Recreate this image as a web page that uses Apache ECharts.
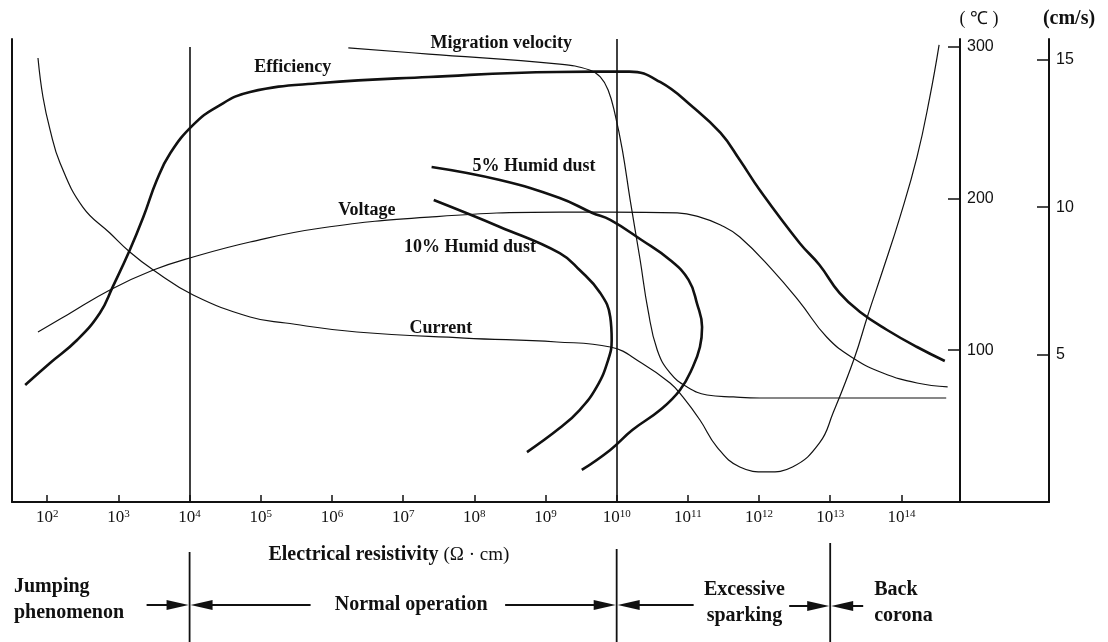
<!DOCTYPE html>
<html>
<head>
<meta charset="utf-8">
<script src="https://cdn.jsdelivr.net/npm/echarts@6/dist/echarts.min.js"></script>
<style>
  html, body { margin: 0; padding: 0; background: #fff; }
  #chart { width: 1108px; height: 642px; }
</style>
</head>
<body>
<div id="chart"></div>
<script>
// x = log10 of electrical resistivity (Ω·cm); y = value on the left-hand (℃) scale
const decadeTicks = [2, 3, 4, 5, 6, 7, 8, 9, 10, 11, 12, 13, 14];
const tempTicks = [100, 200, 300];
const speedTicks = [5, 10, 15];

const efficiency = [
  [1.69, 77.1], [2.04, 91.6], [2.42, 106.7], [2.74, 124.5], [2.92, 141.7], [3.16, 166.0],
  [3.35, 187.7], [3.54, 212.1], [3.73, 229.9], [4.05, 248.4], [4.38, 260.2], [4.85, 270.1],
  [5.85, 276.0], [7.36, 280.0], [9.16, 283.3], [10.18, 283.5], [10.61, 276.7],
  [11.07, 260.2], [11.46, 243.1], [11.73, 225.3], [12.01, 205.5], [12.57, 170.6], [12.85, 156.1],
  [13.13, 137.7], [13.42, 125.2], [13.80, 113.3], [14.22, 102.1], [14.61, 92.9]
];
const migrationVelocity = [
  [6.23, 299.1], [7.36, 295.1], [9.20, 288.5], [9.62, 284.6], [9.77, 280.0], [9.88, 271.4],
  [9.98, 254.9], [10.08, 231.9], [10.19, 198.9], [10.33, 159.4], [10.44, 126.5],
  [10.57, 100.1], [10.75, 85.0], [10.99, 75.8], [11.27, 70.5], [11.64, 69.2], [12.01, 68.5],
  [14.63, 68.5]
];
const current = [
  [1.87, 292.5], [1.94, 266.8], [2.04, 245.1], [2.18, 223.3], [2.50, 194.3],
  [2.88, 177.2], [3.16, 164.7], [3.49, 152.8], [4.05, 136.4], [4.85, 121.9], [5.35, 117.9],
  [6.35, 112.0], [7.86, 108.0], [9.16, 105.4], [9.91, 102.1], [10.35, 91.6], [10.75, 78.4],
  [10.93, 69.2], [11.17, 54.0], [11.41, 36.2], [11.73, 23.1], [12.11, 19.8], [12.47, 23.1],
  [12.85, 38.9], [13.04, 58.6], [13.34, 94.9], [13.53, 123.2], [13.74, 152.8],
  [13.98, 187.7], [14.22, 227.3], [14.40, 266.8], [14.53, 301.1]
];
const voltage = [
  [1.87, 112.0], [2.28, 123.2], [2.88, 139.7], [3.49, 152.8], [4.05, 161.4], [4.85, 171.3],
  [5.85, 180.5], [7.36, 187.7], [9.20, 191.0], [9.91, 191.0], [10.85, 190.4], [11.17, 187.7],
  [11.46, 182.5], [11.73, 174.6], [12.19, 152.8], [12.57, 131.8], [12.95, 108.7], [13.32, 94.9],
  [13.74, 85.0], [14.22, 78.4], [14.65, 75.8]
];
const humidDust5 = [
  [7.40, 220.7], [8.36, 212.1], [9.20, 200.3], [9.66, 190.4], [9.91, 185.8], [10.35, 172.6],
  [10.75, 159.4], [11.01, 146.3], [11.13, 130.5], [11.20, 115.3], [11.17, 102.1], [11.07, 88.9],
  [10.89, 73.8], [10.61, 60.6], [10.22, 47.4], [9.91, 34.3], [9.51, 21.1]
];
const humidDust10 = [
  [7.43, 198.9], [8.36, 181.2], [9.20, 164.0], [9.48, 152.8], [9.77, 137.7], [9.91, 121.9],
  [9.93, 106.7], [9.88, 93.5], [9.72, 75.8], [9.48, 60.6], [9.20, 48.7], [8.74, 32.9]
];

// region boundaries (log10 resistivity)
const jumpLimit = 4, sparkLimit = 10, coronaLimit = 13;

const INK = '#111';
const SERIF = '"Liberation Serif", "Times New Roman", Times, serif';
const SANS = '"Liberation Sans", Arial, Helvetica, sans-serif';

const chart = echarts.init(document.getElementById('chart'), null, { renderer: 'canvas' });

function curve(name, data, width) {
  return {
    name: name, type: 'line', yAxisIndex: 0, data: data,
    smooth: 0.45, symbol: 'none', silent: true, z: 3,
    lineStyle: { color: INK, width: width }
  };
}

const boundarySeries = curve('boundaries', [], 1);
boundarySeries.markLine = {
  silent: true, symbol: 'none', label: { show: false },
  lineStyle: { color: INK, width: 1.6, type: 'solid' },
  data: [
    [{ coord: [jumpLimit, 0] }, { coord: [jumpLimit, 299.7] }],
    [{ coord: [sparkLimit, 0] }, { coord: [sparkLimit, 305] }]
  ]
};

const option = {
  animation: false,
  backgroundColor: '#fff',
  grid: { left: 12, right: 59, top: 39, bottom: 140 },
  xAxis: {
    type: 'value', min: 1.505, max: 16.074,
    axisLine: { show: true, lineStyle: { color: INK, width: 2 } },
    axisTick: { show: true, inside: true, length: 7, customValues: decadeTicks,
      lineStyle: { color: INK, width: 1.5 } },
    axisLabel: {
      customValues: decadeTicks, margin: 7, color: INK,
      formatter: function (v) { return '{b|10}{s|' + v + '}'; },
      rich: {
        b: { fontFamily: SERIF, fontSize: 17, color: INK },
        s: { fontFamily: SERIF, fontSize: 11, color: INK, verticalAlign: 'top' }
      }
    },
    splitLine: { show: false }
  },
  yAxis: [
    {
      type: 'value', position: 'right', offset: -89, min: 0, max: 305,
      name: '( ℃ )', nameLocation: 'end', nameGap: 11,
      nameTextStyle: { fontFamily: SERIF, fontSize: 18, color: INK, padding: [0, 0, 0, 38] },
      axisLine: { show: true, lineStyle: { color: INK, width: 2 } },
      axisTick: { show: true, inside: true, length: 12, customValues: tempTicks,
        lineStyle: { color: INK, width: 1.5 } },
      axisLabel: { customValues: tempTicks, margin: 7, color: INK, fontFamily: SANS, fontSize: 16 },
      splitLine: { show: false }
    },
    {
      type: 'value', position: 'right', offset: 0, min: 0, max: 15.7,
      name: '(cm/s)', nameLocation: 'end', nameGap: 10,
      nameTextStyle: { fontFamily: SERIF, fontSize: 20, fontWeight: 'bold', color: INK, padding: [0, 0, 0, 40] },
      axisLine: { show: true, lineStyle: { color: INK, width: 2 } },
      axisTick: { show: true, inside: true, length: 12, customValues: speedTicks,
        lineStyle: { color: INK, width: 1.5 } },
      axisLabel: { customValues: speedTicks, margin: 7, color: INK, fontFamily: SANS, fontSize: 16 },
      splitLine: { show: false }
    },
    {
      type: 'value', position: 'left', min: 0, max: 305,
      axisLine: { show: true, lineStyle: { color: INK, width: 2 } },
      axisTick: { show: false }, axisLabel: { show: false }, splitLine: { show: false }
    }
  ],
  series: [
    boundarySeries,
    curve('Efficiency', efficiency, 2.6),
    curve('Migration velocity', migrationVelocity, 1.2),
    curve('Current', current, 1.2),
    curve('Voltage', voltage, 1.2),
    curve('5% Humid dust', humidDust5, 2.6),
    curve('10% Humid dust', humidDust10, 2.6)
  ]
};
chart.setOption(option);

// curve captions, anchored in data space
const captions = [
  ['Efficiency', 5.45, 286.6],
  ['Migration velocity', 8.38, 302.4],
  ['5% Humid dust', 8.84, 221.3],
  ['Voltage', 6.49, 192.4],
  ['10% Humid dust', 7.94, 168.0],
  ['Current', 7.53, 114.6]
];

function boldText(text, x, y, size, align) {
  return {
    type: 'text', x: x, y: y, silent: true, z: 10,
    style: { text: text, fill: INK, fontFamily: SERIF, fontWeight: 'bold', fontSize: size,
      align: align || 'center', verticalAlign: 'middle', lineHeight: 26 }
  };
}
function vline(x, y1, y2) {
  return { type: 'line', silent: true, shape: { x1: x, y1: y1, x2: x, y2: y2 },
    style: { stroke: INK, lineWidth: 1.8 } };
}
function arrow(fromX, toX, y) {
  const dir = toX > fromX ? 1 : -1;
  const head = 22, half = 5;
  const baseX = toX - dir * head;
  return [
    { type: 'line', silent: true, shape: { x1: fromX, y1: y, x2: baseX + dir * 2, y2: y },
      style: { stroke: INK, lineWidth: 2 } },
    { type: 'polygon', silent: true, shape: { points: [[toX, y], [baseX, y - half], [baseX, y + half]] },
      style: { fill: INK } }
  ];
}

function buildGraphics() {
  const toPx = function (k, v) { return chart.convertToPixel({ xAxisIndex: 0, yAxisIndex: 0 }, [k, v]); };
  const g = [];
  captions.forEach(function (c) {
    const p = toPx(c[1], c[2]);
    g.push(boldText(c[0], p[0], p[1], 18));
  });

  // axis title
  const axisMid = toPx(6.8, 0)[0];
  g.push({
    type: 'text', x: axisMid, y: 555, silent: true,
    style: {
      text: '{t|Electrical resistivity }{u|(Ω · cm)}', align: 'center', verticalAlign: 'middle',
      rich: {
        t: { fontFamily: SERIF, fontWeight: 'bold', fontSize: 20, fill: INK, color: INK },
        u: { fontFamily: SERIF, fontSize: 19, fill: INK, color: INK }
      }
    }
  });

  // operating regions
  const A = toPx(jumpLimit, 0)[0], B = toPx(sparkLimit, 0)[0], C = toPx(coronaLimit, 0)[0];
  const ay = 605;
  g.push(vline(A, 552, 642), vline(B, 549, 642), vline(C, 543, 642));
  g.push(boldText('Jumping\nphenomenon', 14, 600, 20, 'left'));
  g.push.apply(g, arrow(A - 43, A - 1, ay));
  g.push.apply(g, arrow(A + 121, A + 1, ay));
  const mid = (A + B) / 2 + 8;
  g.push(boldText('Normal operation', mid, ay, 20));
  g.push.apply(g, arrow(mid + 94, B - 1, ay));
  g.push.apply(g, arrow(B + 77, B + 1, ay));
  g.push(boldText('Excessive\nsparking', (B + C) / 2 + 21, 603, 20));
  g.push.apply(g, arrow(C - 41, C - 1, ay + 1));
  g.push.apply(g, arrow(C + 33, C + 1, ay + 1));
  g.push(boldText('Back\ncorona', C + 44, 603, 20, 'left'));
  return g;
}

chart.setOption({ graphic: buildGraphics() });
</script>
</body>
</html>
